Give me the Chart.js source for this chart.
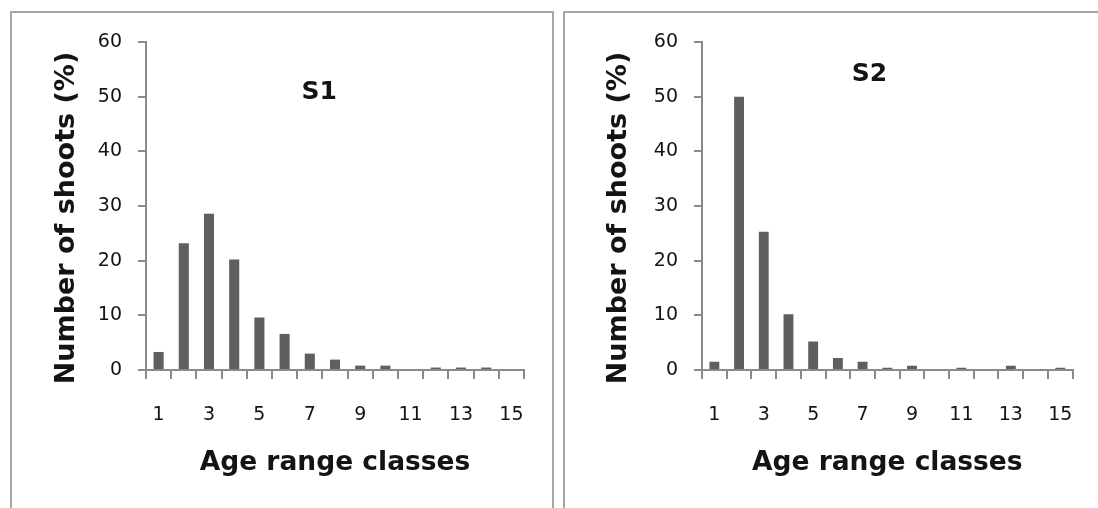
<!DOCTYPE html>
<html><head><meta charset="utf-8">
<script src="https://cdn.jsdelivr.net/npm/chart.js@4/dist/chart.umd.min.js"></script>
<style>
html,body{margin:0;padding:0;background:#fff;width:1098px;height:508px;overflow:hidden;position:relative;}
.panel{position:absolute;border:2px solid #a6a6a6;border-bottom:none;box-sizing:border-box;}
#p1{left:10px;top:11px;width:544px;height:497px;}
#p2{left:563px;top:11px;width:540px;height:497px;border-right:none;}
canvas{position:absolute;top:0;}
#c1{left:0;}
#c2{left:556px;}
</style></head>
<body>
<div class="panel" id="p1"></div>
<div class="panel" id="p2"></div>
<canvas id="c1" width="556" height="508"></canvas>
<canvas id="c2" width="542" height="508"></canvas>
<script>
// ---- data ----
const categories = ['1','2','3','4','5','6','7','8','9','10','11','12','13','14','15'];
const shownXLabels = ['1','3','5','7','9','11','13','15'];
const yTicks = [0,10,20,30,40,50,60];
const s1Values = [3.3, 23.2, 28.6, 20.2, 9.6, 6.6, 3.0, 1.9, 0.8, 0.8, 0, 0.45, 0.45, 0.45, 0];
const s2Values = [1.5, 50.0, 25.3, 10.2, 5.2, 2.2, 1.5, 0.4, 0.8, 0, 0.4, 0, 0.8, 0, 0.4];
const panelNames = ['S1','S2'];
const xTitle = 'Age range classes';
const yTitle = 'Number of shoots (%)';

const TXT = '#141414';
const AXIS = '#8a8a8a';
const FONT = '"DejaVu Sans", Verdana, sans-serif';

const panelText = {
  id: 'panelText',
  afterDraw(chart, args, opts) {
    const {ctx, chartArea, scales} = chart;
    ctx.save();
    ctx.fillStyle = TXT;
    ctx.textAlign = 'center';
    ctx.textBaseline = 'middle';
    ctx.font = 'bold 25px ' + FONT;
    ctx.fillText(opts.label,
      chartArea.left + opts.labelFrac * (chartArea.right - chartArea.left),
      scales.y.getPixelForValue(opts.labelValue));
    ctx.translate(opts.yTitleX, (chartArea.top + chartArea.bottom) / 2 + opts.yTitleShift);
    ctx.rotate(-Math.PI / 2);
    ctx.font = 'bold 27px ' + FONT;
    ctx.fillText(yTitle, 0, 0);
    ctx.restore();
  }
};

function makeChart(id, values, padRight, textOpts) {
  return new Chart(document.getElementById(id), {
    type: 'bar',
    data: {
      labels: categories,
      datasets: [{
        data: values,
        backgroundColor: '#5f5f5f',
        borderWidth: 0,
        barPercentage: 0.4,
        categoryPercentage: 1.0
      }]
    },
    options: {
      responsive: false,
      animation: false,
      devicePixelRatio: 1,
      layout: {padding: {left: 0, top: 42, right: padRight, bottom: 0}},
      plugins: {
        legend: {display: false},
        tooltip: {enabled: false},
        panelText: textOpts
      },
      scales: {
        x: {
          type: 'category',
          offset: true,
          grid: {display: true, drawOnChartArea: false, drawTicks: true, tickLength: 9, color: AXIS, lineWidth: 2, offset: true},
          border: {display: true, color: AXIS, width: 2},
          ticks: {
            autoSkip: false, maxRotation: 0, minRotation: 0, padding: 25, color: TXT,
            font: {family: FONT, size: 19},
            callback: (v, i) => shownXLabels.includes(categories[i]) ? categories[i] : ''
          },
          title: {display: true, text: xTitle, color: TXT, font: {family: FONT, size: 26.5, weight: 'bold'}, padding: {top: 0, bottom: 29}},
          afterFit: (s) => { s.height = 138; }
        },
        y: {
          min: 0, max: 60,
          afterBuildTicks: (s) => { s.ticks = yTicks.map(v => ({value: v})); },
          grid: {display: true, drawOnChartArea: false, drawTicks: true, tickLength: 8, color: AXIS, lineWidth: 2},
          border: {display: true, color: AXIS, width: 2},
          ticks: {padding: 16, color: TXT, font: {family: FONT, size: 19}},
          afterFit: (s) => { s.width = 146; }
        }
      }
    },
    plugins: [panelText]
  });
}

makeChart('c1', s1Values, 32, {label: panelNames[0], labelFrac: 0.458, labelValue: 50.7, yTitleX: 67, yTitleShift: 12});
makeChart('c2', s2Values, 20, {label: panelNames[1], labelFrac: 0.452, labelValue: 54.1, yTitleX: 63, yTitleShift: 12});
</script>
</body></html>
